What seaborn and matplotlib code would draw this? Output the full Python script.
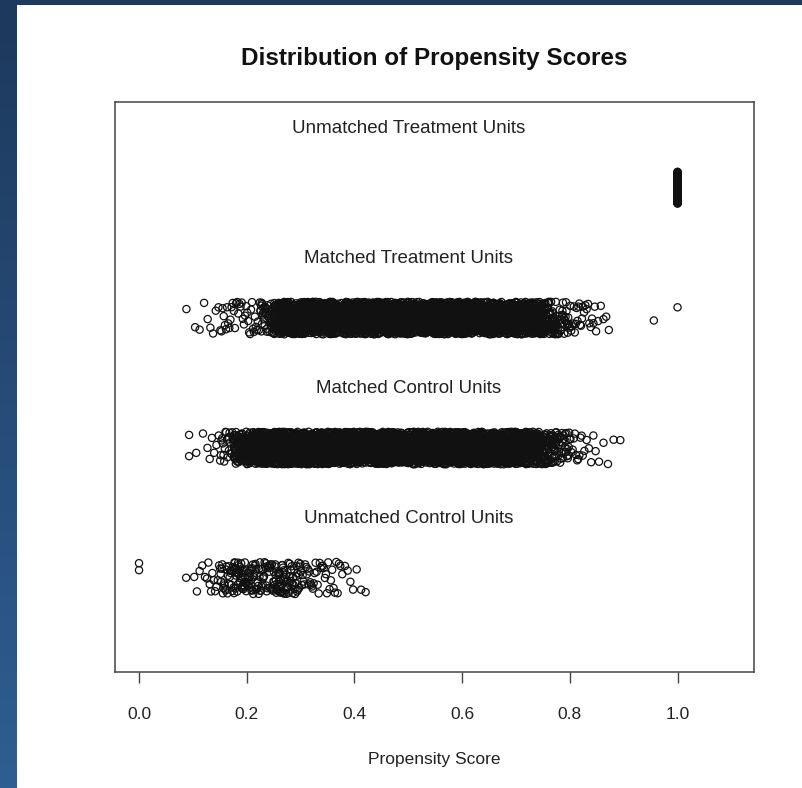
import numpy as np
import pandas as pd
import seaborn as sns
import matplotlib.pyplot as plt
from matplotlib.patches import Rectangle

# ---- data -------------------------------------------------------------
groups = ["Unmatched Treatment Units", "Matched Treatment Units",
          "Matched Control Units", "Unmatched Control Units"]

# unmatched treated units all sit at a score of 1.0
ut_scores = [1.0] * 120

# matched treated: isolated points plus counts per 0.025-wide bin
mt_isolated = [0.088, 0.956, 1.0]
mt_bin_start = 0.100
mt_counts = [3, 5, 12, 12, 14, 40, 120, 150,
             150, 150, 150, 150, 150, 150, 150, 150, 150,
             150, 150, 150, 150, 150, 150, 150, 150, 150,
             70, 30, 15, 10, 5]

# matched control
mc_isolated = [0.093, 0.093]
mc_bin_start = 0.100
mc_counts = [2, 6, 20, 90,
             150, 150, 150, 150, 150, 150, 150, 150, 150, 150, 150,
             150, 150, 150, 150, 150, 150, 150, 150, 150, 150,
             100, 60, 30, 12, 6, 3, 2]

# unmatched control
uc_isolated = [0.0, 0.0]
uc_bin_start = 0.075
uc_counts = [1, 5, 10, 24, 40, 30, 26, 38, 28, 16, 13, 10, 5, 3]

bin_width = 0.025


def spread(start, counts):
    """Place each bin's points evenly across that bin."""
    vals = []
    for i, n in enumerate(counts):
        lo = start + i * bin_width
        vals.extend(lo + bin_width * (np.arange(n) + 0.5) / n)
    return vals


scores = {
    groups[0]: list(ut_scores),
    groups[1]: mt_isolated + spread(mt_bin_start, mt_counts),
    groups[2]: mc_isolated + spread(mc_bin_start, mc_counts),
    groups[3]: uc_isolated + spread(uc_bin_start, uc_counts),
}
df = pd.DataFrame([(g, s) for g in groups for s in scores[g]],
                  columns=["group", "score"])

# ---- style ------------------------------------------------------------
sns.set_style("white")
plt.rcParams["font.family"] = ["Liberation Sans", "DejaVu Sans"]

W, H = 803, 788
fig = plt.figure(figsize=(W / 100, H / 100), dpi=100)
fig.patch.set_facecolor("white")

# slide-style frame: navy band on top and a blue gradient strip on the left
strip = fig.add_axes([0, 0, 17 / W, 1])
grad = np.linspace(0, 1, 256)[:, None]
top_c = np.array([29, 57, 92]) / 255
bot_c = np.array([47, 94, 146]) / 255
img = top_c[None, None, :] * (1 - grad[..., None]) + bot_c[None, None, :] * grad[..., None]
strip.imshow(img, aspect="auto", extent=[0, 1, 0, 1], origin="upper")
strip.axis("off")
fig.patches.append(Rectangle((0, 1 - 5 / H), 1, 5 / H, transform=fig.transFigure,
                             facecolor="#1d395c", edgecolor="none", zorder=5))

ax = fig.add_axes([115 / W, 1 - 672 / H, (754 - 115) / W, (672 - 102) / H])
np.random.seed(7)
sns.stripplot(data=df, x="score", y="group", order=groups, orient="h",
              jitter=0.125, color="black", size=5.2, linewidth=0.9, ax=ax)
for coll in ax.collections:
    coll.set_facecolor("none")
    coll.set_edgecolor("#111111")

ax.set_xlim(-0.0446, 1.142)
ax.set_ylim(3.723, -0.662)
ax.set_yticks([])
ax.set_ylabel("")

ticks = [0.0, 0.2, 0.4, 0.6, 0.8, 1.0]
ax.set_xticks(ticks)
ax.set_xticklabels([f"{t:.1f}" for t in ticks], fontsize=12.5, color="#222222")
ax.tick_params(axis="x", direction="out", length=8, width=1.0, color="#444444",
               pad=17, bottom=True)
ax.set_xlabel("Propensity Score", fontsize=12.5, color="#222222", labelpad=22)

for sp in ax.spines.values():
    sp.set_visible(True)
    sp.set_color("#444444")
    sp.set_linewidth(1.1)

for k, g in enumerate(groups):
    ax.text(0.5, k - 0.46, g, ha="center", va="center", fontsize=13.5,
            color="#222222")

fig.text(434.5 / W, 1 - 58 / H, "Distribution of Propensity Scores",
         ha="center", va="center", fontsize=17.5, fontweight="bold",
         color="#111111")

fig.savefig("out.png", dpi=100)
